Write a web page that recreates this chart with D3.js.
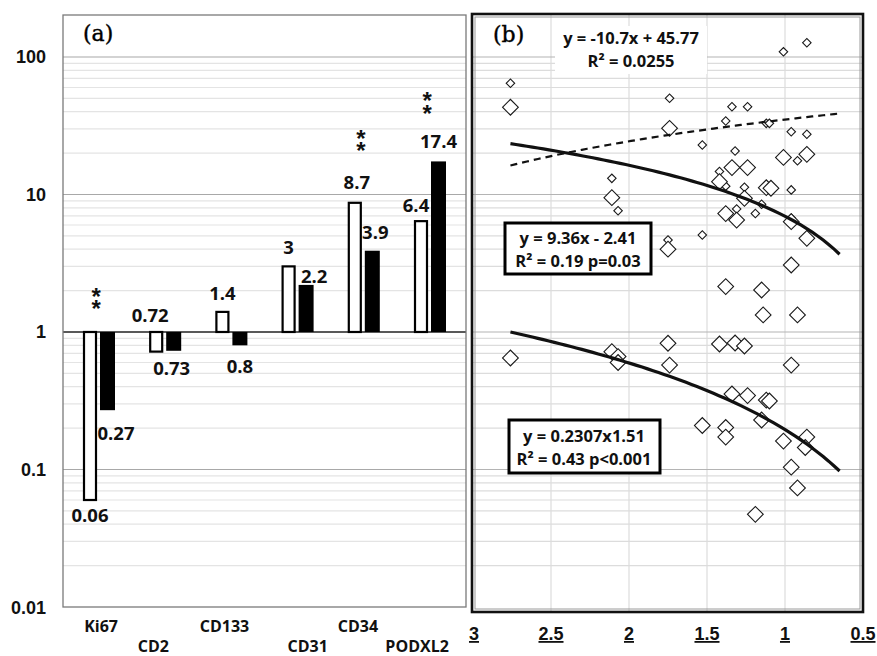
<!DOCTYPE html>
<html><head><meta charset="utf-8">
<script src="https://cdn.jsdelivr.net/npm/d3@7"></script>
<style>body{margin:0;background:#fff} svg{display:block}</style>
</head><body><svg id="c" width="877" height="656"></svg>
<script>
// ---------- Panel (a) data ----------
const categories = ["Ki67", "CD2", "CD133", "CD31", "CD34", "PODXL2"];
const whiteValues = [0.06, 0.72, 1.4, 3, 8.7, 6.4];
const blackValues = [0.27, 0.73, 0.8, 2.2, 3.9, 17.4];
const whiteLabels = ["0.06", "0.72", "1.4", "3", "8.7", "6.4"];
const blackLabels = ["0.27", "0.73", "0.8", "2.2", "3.9", "17.4"];
const significance = ["**", "", "", "", "**", "**"];
const yTickValues = [100, 10, 1, 0.1, 0.01];
const yTickLabels = ["100", "10", "1", "0.1", "0.01"];

// ---------- Panel (b) data ----------
const smallX = [2.76, 2.11, 2.07, 1.74, 1.01, 0.86, 1.34, 1.24, 1.38, 1.12, 1.10, 1.53, 0.96, 0.86, 1.32, 0.92, 1.42, 1.38, 1.26, 0.96, 1.15, 1.31, 1.19, 0.96, 1.75, 1.53];
const smallY = [64.4, 13.1, 7.62, 50.1, 109, 127, 43.5, 43.5, 34.2, 32.9, 32.9, 22.9, 28.6, 27.4, 20.7, 17.6, 14.7, 11.5, 11.3, 10.8, 8.49, 7.85, 7.27, 6.75, 4.67, 5.08];
const upperX = [2.76, 2.11, 1.74, 1.01, 0.86, 1.34, 1.24, 1.42, 1.12, 1.09, 1.26, 1.38, 1.31, 0.96, 0.86, 1.75, 0.96, 1.38, 1.15, 1.14, 0.92];
const upperY = [43.1, 9.48, 30.3, 18.6, 19.6, 15.7, 15.7, 12.4, 11.2, 11.1, 9.38, 7.27, 6.52, 6.34, 4.80, 4.00, 3.07, 2.14, 2.02, 1.33, 1.33];
const lowerX = [2.76, 2.11, 2.07, 2.07, 1.75, 1.74, 1.42, 1.32, 1.26, 0.96, 1.34, 1.24, 1.12, 1.10, 1.53, 1.38, 1.38, 1.15, 1.01, 0.86, 0.87, 0.96, 0.92, 1.19];
const lowerY = [0.647, 0.719, 0.663, 0.600, 0.828, 0.575, 0.818, 0.832, 0.791, 0.575, 0.354, 0.345, 0.320, 0.315, 0.209, 0.202, 0.172, 0.229, 0.161, 0.172, 0.1445, 0.104, 0.0734, 0.0472];
const xTicksB = [3, 2.5, 2, 1.5, 1, 0.5];
const xTickLabelsB = ["3", "2.5", "2", "1.5", "1", "0.5"];
const trendRange = [2.76, 0.65];
const dashedFit = [-10.7, 45.77];   // linear
const upperFit = [9.36, -2.41];     // linear
const lowerFit = [0.195, 1.61];     // power
const dashedEq = ["y = -10.7x + 45.77", "R² = 0.0255"];
const upperEq = ["y = 9.36x - 2.41", "R² = 0.19  p=0.03"];
const lowerEq = ["y = 0.2307x1.51", "R² = 0.43 p<0.001"];

// ---------- layout nudges (not data) ----------
const catDx = [5, -9, -4, 13, -3, -10];
const whiteLblNudge = [[0, -2], [-6, 0], [0, 0], [0, 0], [2, -2], [-5, 3]];
const blackLblNudge = [[8.5, 6], [-2, 0], [0, 4], [8, 10], [3, 0], [0, -1]];
const starDy = [-28, 0, 0, 0, -57, -53];

const svg = d3.select("#c");
const SANS = "'Open Sans', sans-serif";
const ARIAL = "'Liberation Sans', Arial, sans-serif";
const SERIF = "'DejaVu Serif', serif";

svg.append("rect").attr("width", 877).attr("height", 656).attr("fill", "#fff");

const y = d3.scaleLog().domain([0.01, 202]).range([607, 15]);
const gridVals = y.ticks().filter(v => v <= 100.0001 && v > 0.0101);
const isMajor = v => Math.abs(Math.log10(v) - Math.round(Math.log10(v))) < 1e-6;

// ================= Panel (a) =================
const ax0 = 63, ax1 = 466;
const gA = svg.append("g");
gA.selectAll("line.minor").data(gridVals.filter(v => !isMajor(v))).join("line")
  .attr("x1", ax0).attr("x2", ax1).attr("y1", d => y(d)).attr("y2", d => y(d))
  .attr("stroke", "#e4e4e4").attr("stroke-width", 1.2);
gA.selectAll("line.major").data(gridVals.filter(v => isMajor(v) && v !== 1)).join("line")
  .attr("x1", ax0).attr("x2", ax1).attr("y1", d => y(d)).attr("y2", d => y(d))
  .attr("stroke", "#a8a8a8").attr("stroke-width", 1.2);

const xb = d3.scaleBand().domain(categories).range([63, 460.2]);
const base = y(1);

gA.append("line").attr("x1", ax0).attr("x2", ax1).attr("y1", base).attr("y2", base)
  .attr("stroke", "#222").attr("stroke-width", 1.5);

gA.selectAll("rect.w").data(categories).join("rect")
  .attr("x", c => xb(c) + 21).attr("width", 12)
  .attr("y", (c, i) => Math.min(y(whiteValues[i]), base))
  .attr("height", (c, i) => Math.abs(y(whiteValues[i]) - base))
  .attr("fill", "#fff").attr("stroke", "#000").attr("stroke-width", 2.2);
gA.selectAll("rect.b").data(categories).join("rect")
  .attr("x", c => xb(c) + 37).attr("width", 15)
  .attr("y", (c, i) => Math.min(y(blackValues[i]), base))
  .attr("height", (c, i) => Math.abs(y(blackValues[i]) - base))
  .attr("fill", "#000");

function lblY(v, special) {
  if (special) return base - 10;
  return v >= 1 ? y(v) - 12 : y(v) + 24;
}
gA.selectAll("text.wl").data(categories).join("text")
  .attr("x", (c, i) => xb(c) + 27 + whiteLblNudge[i][0])
  .attr("y", (c, i) => lblY(whiteValues[i], categories[i] === "CD2") + whiteLblNudge[i][1])
  .attr("text-anchor", "middle").attr("font-family", SANS).attr("font-weight", 700)
  .attr("font-size", 18.5).attr("fill", "#111").text((c, i) => whiteLabels[i]);
gA.selectAll("text.bl").data(categories).join("text")
  .attr("x", (c, i) => xb(c) + 44.5 + blackLblNudge[i][0])
  .attr("y", (c, i) => lblY(blackValues[i], false) + blackLblNudge[i][1])
  .attr("text-anchor", "middle").attr("font-family", SANS).attr("font-weight", 700)
  .attr("font-size", 18.5).attr("fill", "#111").text((c, i) => blackLabels[i]);

// significance stars (one text element, stacked tspans)
categories.forEach((c, i) => {
  if (!significance[i]) return;
  const bottom = y(Math.max(1, whiteValues[i], blackValues[i])) + starDy[i];
  const stars = significance[i].split("");
  const cx = xb(c) + xb.bandwidth() / 2;
  const t = gA.append("text").attr("text-anchor", "middle").attr("font-family", ARIAL)
    .attr("font-weight", 700).attr("font-size", 24).attr("fill", "#111");
  stars.forEach((s, k) => {
    t.append("tspan").attr("x", cx)
      .attr("y", bottom - (stars.length - 1 - k) * 12.5 + 13.5).text(s);
  });
});

// y tick labels
gA.selectAll("text.yt").data(yTickValues).join("text")
  .attr("x", 46).attr("y", d => y(d) + 6.5).attr("text-anchor", "end")
  .attr("font-family", ARIAL).attr("font-weight", 700).attr("font-size", 18)
  .attr("fill", "#111").text((d, i) => yTickLabels[i]);

// category labels
gA.selectAll("text.cat").data(categories).join("text")
  .attr("x", (c, i) => xb(c) + xb.bandwidth() / 2 + catDx[i])
  .attr("y", (c, i) => i % 2 === 0 ? 632 : 652)
  .attr("text-anchor", "middle").attr("font-family", SANS).attr("font-weight", 700)
  .attr("font-size", 16).attr("fill", "#111").text(c => c);

gA.append("rect").attr("x", ax0).attr("y", 15).attr("width", ax1 - ax0).attr("height", 607 - 15)
  .attr("fill", "none").attr("stroke", "#7a7a7a").attr("stroke-width", 1.3);
gA.append("text").attr("x", 83).attr("y", 41).attr("font-family", SERIF).attr("font-size", 22)
  .attr("fill", "#000").attr("stroke", "#000").attr("stroke-width", 0.4).text("(a)");

// ================= Panel (b) =================
const bx0 = 473, bx1 = 862, by0 = 15, by1 = 611;
const x = d3.scaleLinear().domain([3, 0.5]).range([473, 863]);
const gB = svg.append("g");
gB.selectAll("line.minor").data(gridVals.filter(v => !isMajor(v))).join("line")
  .attr("x1", bx0).attr("x2", bx1).attr("y1", d => y(d)).attr("y2", d => y(d))
  .attr("stroke", "#dcdcdc").attr("stroke-width", 1.2);
gB.selectAll("line.vg").data(xTicksB.filter(v => v < 3 && v > 0.5)).join("line")
  .attr("x1", d => x(d)).attr("x2", d => x(d)).attr("y1", by0).attr("y2", by1)
  .attr("stroke", "#dcdcdc").attr("stroke-width", 1.2);
gB.selectAll("line.major").data(gridVals.filter(v => isMajor(v))).join("line")
  .attr("x1", bx0).attr("x2", bx1).attr("y1", d => y(d)).attr("y2", d => y(d))
  .attr("stroke", "#b4b4b4").attr("stroke-width", 1.2);

// white box behind dashed equation
gB.append("rect").attr("x", 555).attr("y", 26).attr("width", 152).attr("height", 48).attr("fill", "#fff");

const sq = s => d3.symbol().type(d3.symbolSquare).size(s)();
function drawPts(xs, ys, size) {
  gB.append("g").selectAll("path").data(xs).join("path")
    .attr("d", sq(size))
    .attr("transform", (d, i) => `translate(${x(d)},${y(ys[i])}) rotate(45)`)
    .attr("fill", "#fff").attr("stroke", "#1a1a1a").attr("stroke-width", 1.1);
}
drawPts(smallX, smallY, 36);
drawPts(upperX, upperY, 124);
drawPts(lowerX, lowerY, 124);

const xs = d3.range(0, 61).map(i => trendRange[0] + (trendRange[1] - trendRange[0]) * i / 60);
const line = d3.line().x(d => x(d[0])).y(d => y(d[1])).curve(d3.curveLinear);
gB.append("path").attr("d", line(xs.map(v => [v, dashedFit[0] * v + dashedFit[1]])))
  .attr("fill", "none").attr("stroke", "#111").attr("stroke-width", 2.2).attr("stroke-dasharray", "7,5");
gB.append("path").attr("d", line(xs.map(v => [v, upperFit[0] * v + upperFit[1]])))
  .attr("fill", "none").attr("stroke", "#111").attr("stroke-width", 3.2);
gB.append("path").attr("d", line(xs.map(v => [v, lowerFit[0] * Math.pow(v, lowerFit[1])])))
  .attr("fill", "none").attr("stroke", "#111").attr("stroke-width", 3.2);

// equation texts
function eqText(lines, cx, ys) {
  lines.forEach((t, i) => gB.append("text").attr("x", cx).attr("y", ys[i])
    .attr("text-anchor", "middle").attr("font-family", SANS).attr("font-weight", 700)
    .attr("font-size", 16.5).attr("fill", "#111").text(t));
}
eqText(dashedEq, 631, [44, 67]);
gB.append("rect").attr("x", 505).attr("y", 223).attr("width", 146).attr("height", 51)
  .attr("fill", "#fff").attr("stroke", "#000").attr("stroke-width", 3);
eqText(upperEq, 578, [244, 266.5]);
gB.append("rect").attr("x", 509).attr("y", 420).attr("width", 151).attr("height", 53)
  .attr("fill", "#fff").attr("stroke", "#000").attr("stroke-width", 3);
eqText(lowerEq, 584, [441.5, 465]);

gB.append("text").attr("x", 493).attr("y", 42).attr("font-family", SERIF).attr("font-size", 22)
  .attr("fill", "#000").attr("stroke", "#000").attr("stroke-width", 0.4).text("(b)");

// frame
gB.append("rect").attr("x", 472).attr("y", 14).attr("width", 391).attr("height", 598)
  .attr("fill", "none").attr("stroke", "#111").attr("stroke-width", 2.6);
gB.append("rect").attr("x", 475).attr("y", 17).attr("width", 385).attr("height", 592)
  .attr("fill", "none").attr("stroke", "#9a9a9a").attr("stroke-width", 1);

// x tick labels (b)
gB.selectAll("text.xt").data(xTicksB).join("text")
  .attr("x", d => x(d) + (d === 3 ? 1 : 0)).attr("y", 640).attr("text-anchor", "middle")
  .attr("font-family", ARIAL).attr("font-weight", 700).attr("font-size", 18)
  .attr("fill", "#111").style("text-decoration", "underline")
  .text((d, i) => xTickLabelsB[i]);
</script></body></html>
